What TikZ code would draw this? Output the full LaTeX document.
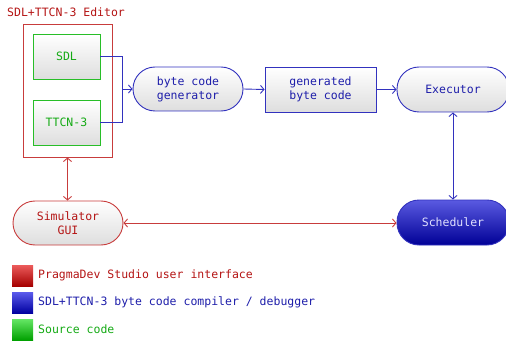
\documentclass[tikz,border=0pt]{standalone}
\usepackage{fontspec}
\setmonofont{DejaVu Sans Mono}
\usetikzlibrary{arrows.meta}
\definecolor{redline}{RGB}{200,60,60}
\definecolor{redtext}{RGB}{180,20,20}
\definecolor{blueline}{RGB}{50,50,190}
\definecolor{bluetext}{RGB}{30,30,170}
\definecolor{greenline}{RGB}{40,190,40}
\definecolor{greentext}{RGB}{20,170,20}
\definecolor{schedtop}{RGB}{90,90,225}
\definecolor{schedbot}{RGB}{0,0,150}
\definecolor{schedtext}{RGB}{225,225,255}
\definecolor{redtop}{RGB}{235,90,90}
\definecolor{redbot}{RGB}{165,0,0}
\definecolor{bluetop}{RGB}{90,90,235}
\definecolor{bluebot}{RGB}{0,0,160}
\definecolor{greentop}{RGB}{100,230,100}
\definecolor{greenbot}{RGB}{0,160,0}
\definecolor{boxbot}{RGB}{222,222,222}
\tikzset{
  every node/.style={font=\ttfamily\fontsize{11.5}{14}\selectfont, inner sep=0pt, align=center},
  boxfill/.style={top color=white, bottom color=boxbot},
  greenbox/.style={boxfill, draw=greenline, text=greentext, line width=0.9pt, minimum width=67pt, minimum height=45pt},
  bluebox/.style={boxfill, draw=blueline, text=bluetext, line width=0.9pt, minimum width=111pt, minimum height=45pt},
  bluepill/.style={boxfill, draw=blueline, text=bluetext, line width=0.9pt, rounded corners=22pt, minimum width=111pt, minimum height=45pt},
  redpill/.style={boxfill, draw=redline, text=redtext, line width=0.9pt, rounded corners=22pt, minimum width=110pt, minimum height=44pt},
  schedpill/.style={top color=schedtop, bottom color=schedbot, draw=blueline, text=schedtext, line width=0.9pt, rounded corners=22pt, minimum width=112pt, minimum height=45pt},
  arr/.style={line width=0.9pt, -{Straight Barb[length=3.5pt,width=8pt]}},
  darr/.style={line width=0.9pt, {Straight Barb[length=3.5pt,width=8pt]}-{Straight Barb[length=3.5pt,width=8pt]}},
  legsq/.style={minimum width=21pt, minimum height=21pt, anchor=north west},
  legtxt/.style={anchor=west}
}
\begin{document}
\begin{tikzpicture}[x=1pt,y=-1pt]
\useasboundingbox (0,0) rectangle (506,342);
% editor
\node[anchor=west, text=redtext] (title) at (7,12) {SDL+TTCN-3 Editor};
\node[draw=redline, line width=0.9pt, minimum width=89pt, minimum height=133pt] (editor) at (67.5,90.5) {};
\node[greenbox] (sdl) at (66.5,56.5) {SDL};
\node[greenbox] (ttcn) at (66.5,122.5) {TTCN-3};
\node[bluepill, minimum width=110pt, minimum height=44pt] (gen) at (188,89) {byte code\\generator};
\node[bluebox] (bc) at (320.5,89.5) {generated\\byte code};
\node[bluepill, minimum width=112pt] (exec) at (453,89.5) {Executor};
\node[schedpill] (sched) at (453,222.5) {Scheduler};
\node[redpill] (gui) at (68,223) {Simulator\\GUI};
\coordinate (j) at (122,89);
% connectors
\draw[blueline, line width=0.9pt] (sdl.east) -| (j);
\draw[blueline, line width=0.9pt] (ttcn.east) -| (j);
\draw[arr, blueline] (j) -- (gen.west);
\draw[arr, blueline] (gen.east) -- (bc.west);
\draw[arr, blueline] (bc.east) -- (exec.west);
\draw[darr, blueline] (exec.south) -- (sched.north);
\draw[darr, redline] (editor.south) -- (editor.south |- gui.north);
\draw[darr, redline] (gui.east) -- (sched.west |- gui.east);
% legend
\node[legsq, top color=redtop, bottom color=redbot] (l1) at (12,265) {};
\node[legsq, top color=bluetop, bottom color=bluebot] (l2) at (12,292) {};
\node[legsq, top color=greentop, bottom color=greenbot] (l3) at (12,319) {};
\node[legtxt, text=redtext] (t1) at (38,275.5) {PragmaDev Studio user interface};
\node[legtxt, text=bluetext] (t2) at (38,302.5) {SDL+TTCN-3 byte code compiler / debugger};
\node[legtxt, text=greentext] (t3) at (38,329.5) {Source code};
\end{tikzpicture}
\end{document}
